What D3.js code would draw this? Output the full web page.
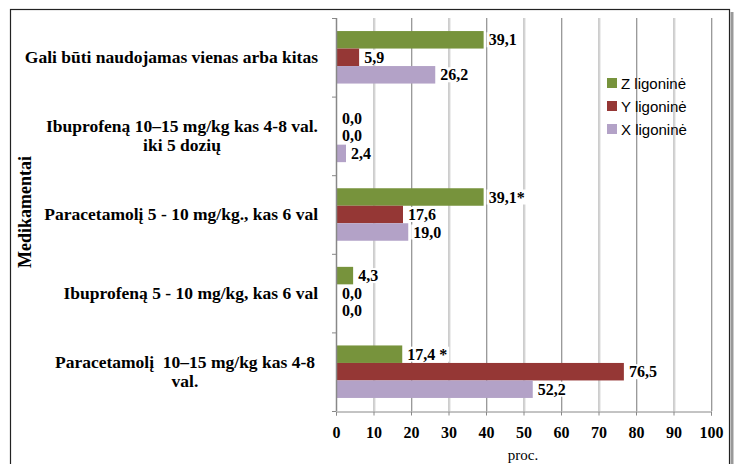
<!DOCTYPE html>
<html><head><meta charset="utf-8">
<script src="https://cdn.jsdelivr.net/npm/d3@7"></script>
<style>body{margin:0;background:#fff}svg{display:block}text{white-space:pre}</style>
</head><body>
<svg id="c" width="734" height="464"></svg>
<script>
const categories = [
  ["Gali būti naudojamas vienas arba kitas"],
  ["Ibuprofeną 10–15 mg/kg kas 4-8 val.", "iki 5 dozių"],
  ["Paracetamolį 5 - 10 mg/kg., kas 6 val"],
  ["Ibuprofeną 5 - 10 mg/kg, kas 6 val"],
  ["Paracetamolį  10–15 mg/kg kas 4-8", "val."]
];
const seriesNames = ["Z ligoninė", "Y ligoninė", "X ligoninė"];
const zValues = [39.1, 0.0, 39.1, 4.3, 17.4];
const yValues = [5.9, 0.0, 17.6, 0.0, 76.5];
const xValues = [26.2, 2.4, 19.0, 0.0, 52.2];
const zLabels = ["39,1", "0,0", "39,1*", "4,3", "17,4 *"];
const yLabels = ["5,9", "0,0", "17,6", "0,0", "76,5"];
const xLabels = ["26,2", "2,4", "19,0", "0,0", "52,2"];
const xTicks = [0,10,20,30,40,50,60,70,80,90,100];
const colors = ["#77933C", "#953735", "#B3A2C7"];

(function(){
const series = [zValues, yValues, xValues];
const labels = [zLabels, yLabels, xLabels];

const svg = d3.select("#c");
const serif = "'Liberation Serif','Times New Roman',serif";

// outer frame
svg.append("rect").attr("x",10.5).attr("y",9.5).attr("width",719).attr("height",470)
  .attr("fill","none").attr("stroke","#222").attr("stroke-width",1.2);
svg.append("rect").attr("x",730.5).attr("y",12).attr("width",3).attr("height",460).attr("fill","#999");

const pLeft = 336, pRight = 711, pTop = 18, pBottom = 411;
const x = d3.scaleLinear().domain([0,100]).range([pLeft,pRight]);
const yBand = d3.scaleBand().domain(d3.range(categories.length)).range([pTop,pBottom]);
const inner = d3.scaleBand().domain([0,1,2]).range([0, yBand.bandwidth()])
  .paddingInner(0).paddingOuter((yBand.bandwidth()-52.5)/2/17.5);

// gridlines
svg.append("g").selectAll("line").data(xTicks.slice(1)).join("line")
  .attr("x1",d=>x(d)+0.5).attr("x2",d=>x(d)+0.5).attr("y1",pTop).attr("y2",pBottom)
  .attr("stroke","#9a9a9a").attr("stroke-width",1);
svg.append("g").selectAll("line").data(xTicks.slice(1)).join("line")
  .attr("x1",d=>x(d)+1.5).attr("x2",d=>x(d)+1.5).attr("y1",pTop).attr("y2",pBottom)
  .attr("stroke","#dcdcdc").attr("stroke-width",1);

// bars
const gBars = svg.append("g");
series.forEach((vals, s) => {
  gBars.selectAll(null).data(vals).join("rect")
    .attr("x", x(0)+1)
    .attr("y", (d,i)=>yBand(i)+inner(s))
    .attr("width", d=>Math.max(0, x(d)-x(0)))
    .attr("height", inner.bandwidth())
    .attr("fill", colors[s]);
});

// x axis
const xAxis = d3.axisBottom(x).tickValues(xTicks).tickSize(4).tickPadding(11).tickFormat(d=>d);
const gx = svg.append("g").attr("transform",`translate(0,${pBottom+0.5})`).call(xAxis);
gx.select(".domain").attr("stroke","#888");
gx.selectAll(".tick line").attr("stroke","#888");
gx.selectAll("text").attr("font-family",serif).attr("font-weight","bold").attr("font-size",16).attr("fill","#000");

// y axis
const yTickPos = d3.range(categories.length+1).map(i=> i<categories.length? yBand(i) : pBottom);
svg.append("line").attr("x1",pLeft+0.5).attr("x2",pLeft+0.5).attr("y1",pTop).attr("y2",pBottom).attr("stroke","#888").attr("stroke-width",1.5);
svg.append("g").selectAll("line").data(yTickPos).join("line")
  .attr("x1",pLeft-4).attr("x2",pLeft).attr("y1",d=>d+0.5).attr("y2",d=>d+0.5).attr("stroke","#888");

// category labels
categories.forEach((lines,i)=>{
  const g = svg.append("g");
  const cy = yBand(i)+yBand.bandwidth()/2;
  const lh = 19;
  const texts = lines.map((t,k)=> g.append("text").text(t)
     .attr("font-family",serif).attr("font-weight","bold").attr("font-size",17.5)
     .attr("text-anchor","middle")
     .attr("y", cy + (k - (lines.length-1)/2)*lh + 5.5));
  const w = d3.max(texts, t=>t.node().getComputedTextLength());
  const rEdge = lines.length > 1 && i === 4 ? 315 : 318;
  texts.forEach(t=>t.attr("x", rEdge - w/2));
});

// value labels with white backgrounds
series.forEach((vals,s)=>{
  vals.forEach((d,i)=>{
    const yc = yBand(i)+inner(s)+inner.bandwidth()/2;
    const t = svg.append("text").text(labels[s][i])
      .attr("x", x(d)+6).attr("y", yc+5.5)
      .attr("font-family",serif).attr("font-weight","bold").attr("font-size",16).attr("fill","#000");
    const bb = t.node().getBBox();
    svg.insert("rect", () => t.node()).attr("x",bb.x-2).attr("y",bb.y+1).attr("width",bb.width+4).attr("height",bb.height-2).attr("fill","#fff");
  });
});

// legend
const legY = [83,106,129];
seriesNames.forEach((n,s)=>{
  svg.append("rect").attr("x",607).attr("y",legY[s]-5).attr("width",10).attr("height",10).attr("fill",colors[s]);
  svg.append("text").text(n).attr("x",621).attr("y",legY[s]+5.5)
    .attr("font-family","'Liberation Sans',Arial,sans-serif").attr("font-size",15).attr("fill","#000");
});

// axis titles
svg.append("text").text("Medikamentai").attr("transform","translate(31,212) rotate(-90)")
  .attr("text-anchor","middle").attr("font-family",serif).attr("font-weight","bold").attr("font-size",18);
svg.append("text").text("proc.").attr("x",523).attr("y",460).attr("text-anchor","middle")
  .attr("font-family",serif).attr("font-size",15);
})();
</script>
</body></html>
